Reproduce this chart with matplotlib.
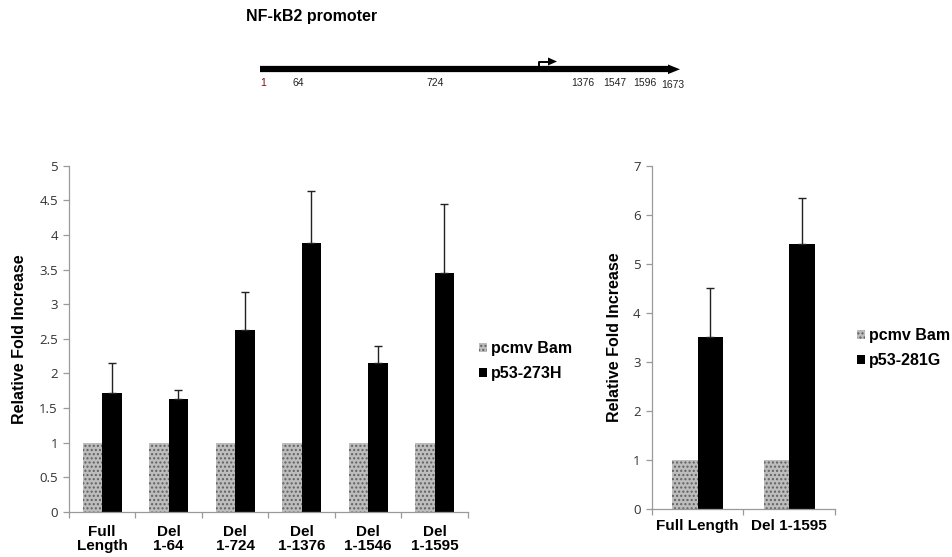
import matplotlib
matplotlib.use("Agg")
import matplotlib.pyplot as plt
from matplotlib.patches import Patch
import numpy as np

plt.rcParams['font.family'] = ['Liberation Sans', 'DejaVu Sans']
plt.rcParams['hatch.linewidth'] = 1.0

# ---------------- data ----------------
left_categories = ["Full\nLength", "Del\n1-64", "Del\n1-724", "Del\n1-1376", "Del\n1-1546", "Del\n1-1595"]
left_pcmv = [1, 1, 1, 1, 1, 1]
left_p53_273H = [1.72, 1.63, 2.63, 3.89, 2.15, 3.45]
left_p53_273H_err = [0.43, 0.13, 0.54, 0.74, 0.24, 1.00]
left_yticks = [0, 0.5, 1, 1.5, 2, 2.5, 3, 3.5, 4, 4.5, 5]

right_categories = ["Full Length", "Del 1-1595"]
right_pcmv = [1, 1]
right_p53_281G = [3.52, 5.40]
right_p53_281G_err = [0.99, 0.95]
right_yticks = [0, 1, 2, 3, 4, 5, 6, 7]

promoter_title = "NF-kB2 promoter"
promoter_labels = ["1", "64", "724", "1376", "1547", "1596", "1673"]

series_names_left = ["pcmv Bam", "p53-273H"]
series_names_right = ["pcmv Bam", "p53-281G"]

# ---------------- figure ----------------
W, H = 953, 557
fig = plt.figure(figsize=(W / 100, H / 100), dpi=100)

GRAY_FACE = '#bdbdbd'
GRAY_HATCH = '#606060'
HATCH = '....'
SPINE = '#9a9a9a'


def px_axes(x0, y0, x1, y1):
    """axes from pixel box (top-left origin)"""
    return fig.add_axes([x0 / W, 1 - y1 / H, (x1 - x0) / W, (y1 - y0) / H])


def style_axes(ax, yticks, cats, linespacing=1.05):
    for s in ['top', 'right']:
        ax.spines[s].set_visible(False)
    for s in ['left', 'bottom']:
        ax.spines[s].set_color(SPINE)
        ax.spines[s].set_linewidth(0.9)
    ax.set_yticks(yticks)
    ax.set_yticklabels([f"{t:g}" for t in yticks], fontsize=9.5, color='#333333',
                       family=['Open Sans', 'DejaVu Sans'])
    ax.tick_params(axis='y', length=4, color=SPINE, width=0.9, pad=4)
    n = len(cats)
    ax.set_xlim(-0.5, n - 0.5)
    ax.set_xticks(np.arange(-0.5, n, 1.0))
    ax.set_xticklabels([])
    ax.tick_params(axis='x', length=4, color=SPINE, width=0.9)
    ax.set_xticks(np.arange(n), minor=True)
    ax.set_xticklabels(cats, minor=True, fontsize=11, fontweight='bold',
                       linespacing=linespacing)
    ax.tick_params(axis='x', which='minor', length=0, pad=9)
    ax.set_ylabel("Relative Fold Increase", fontsize=11.5, fontweight='bold')


def draw_bars(ax, pcmv, p53, err, width):
    x = np.arange(len(pcmv))
    ax.bar(x - width / 2, pcmv, width, color=GRAY_FACE, edgecolor=GRAY_HATCH,
           hatch=HATCH, linewidth=0, zorder=2)
    ax.bar(x + width / 2, p53, width, color='black', linewidth=0, zorder=2)
    ax.errorbar(x + width / 2, p53, yerr=[np.zeros(len(err)), err], fmt='none',
                ecolor='#222222', elinewidth=1.0, capsize=3, capthick=1.0, zorder=3)


# left chart
axL = px_axes(69, 165.7, 468, 512)
draw_bars(axL, left_pcmv, left_p53_273H, left_p53_273H_err, 0.29)
axL.set_ylim(0, 5)
style_axes(axL, left_yticks, left_categories)
axL.yaxis.set_label_coords((27 - 69) / 399, 0.5)

# right chart
axR = px_axes(651.7, 165.7, 835, 509.3)
draw_bars(axR, right_pcmv, right_p53_281G, right_p53_281G_err, 0.28)
axR.set_ylim(0, 7)
style_axes(axR, right_yticks, right_categories)
axR.tick_params(axis='x', which='minor', pad=7)
axR.yaxis.set_label_coords((622 - 651.7) / 183.3, 0.5)

# legends
def make_handles(names):
    return [Patch(facecolor=GRAY_FACE, edgecolor=GRAY_HATCH, hatch=HATCH, linewidth=0, label=names[0]),
            Patch(facecolor='black', linewidth=0, label=names[1])]

legL = fig.legend(handles=make_handles(series_names_left), loc='center left',
                  bbox_to_anchor=(465 / W, 1 - 361 / H), frameon=False,
                  prop={'weight': 'bold', 'size': 11.5}, handlelength=0.5,
                  handleheight=0.5, handletextpad=0.25, labelspacing=0.6)
legR = fig.legend(handles=make_handles(series_names_right), loc='center left',
                  bbox_to_anchor=(843 / W, 1 - 348 / H), frameon=False,
                  prop={'weight': 'bold', 'size': 11.5}, handlelength=0.5,
                  handleheight=0.5, handletextpad=0.25, labelspacing=0.6)

# ---------------- promoter diagram ----------------
axD = fig.add_axes([0, 0, 1, 1], zorder=-1)
axD.set_xlim(0, W)
axD.set_ylim(H, 0)
axD.axis('off')

axD.text(246, 17, promoter_title, fontsize=11.5, fontweight='bold', va='center', ha='left')
# main line with arrowhead
axD.plot([260, 670], [69.3, 69.3], color='black', lw=4.5, solid_capstyle='butt')
axD.fill([668, 680, 668], [64.5, 69.3, 74.1], color='black', lw=0)
# transcription start arrow
axD.plot([539.5, 539.5, 549], [69.3, 61.5, 61.5], color='black', lw=1.4, solid_capstyle='butt')
axD.fill([548, 557, 548], [57.5, 61.5, 65.5], color='black', lw=0)

label_x = [263, 298, 435, 583, 615, 645, 673]
label_y = [82.5, 83, 83, 83, 83, 82.5, 84.5]
for lab, lx, ly in zip(promoter_labels, label_x, label_y):
    axD.text(lx, ly, lab, fontsize=7.5, ha='center', va='center',
             color='#7a1010' if lab == '1' else '#222222')

fig.savefig('out.png', dpi=100)
